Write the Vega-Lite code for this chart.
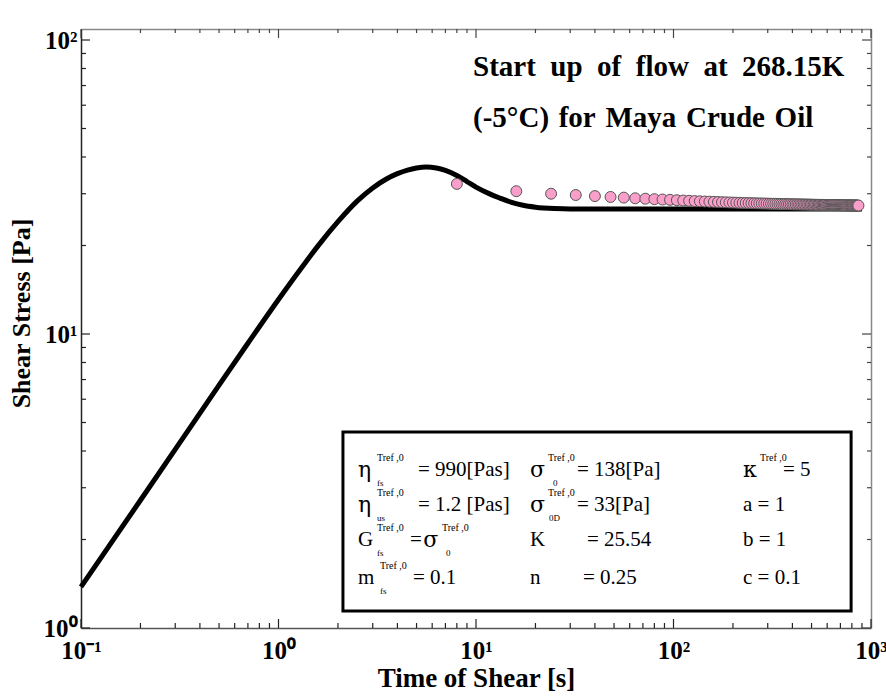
{
  "$schema": "https://vega.github.io/schema/vega-lite/v6.json",
  "width": 790,
  "height": 599,
  "autosize": {"type": "none"},
  "padding": {"left": 81, "top": 29, "right": 15, "bottom": 70},
  "background": "white",
  "config": {
    "view": {"stroke": null},
    "axis": {"grid": false, "labelFont": "Liberation Serif", "titleFont": "Liberation Serif", "labelColor": "black", "titleColor": "black"}
  },
  "datasets": {
    "model": [
      {"t": 0.1, "stress": 1.38}, {"t": 0.2, "stress": 2.72}, {"t": 0.3, "stress": 4.05}, {"t": 0.5, "stress": 6.7},
      {"t": 0.7, "stress": 9.3}, {"t": 1.0, "stress": 13.1}, {"t": 1.3, "stress": 16.7}, {"t": 1.6, "stress": 20.1},
      {"t": 2.0, "stress": 24.1}, {"t": 2.5, "stress": 28.3}, {"t": 3.0, "stress": 31.4}, {"t": 3.5, "stress": 33.6},
      {"t": 4.0, "stress": 35.1}, {"t": 4.5, "stress": 36.1}, {"t": 5.0, "stress": 36.7}, {"t": 5.6, "stress": 37.0},
      {"t": 6.3, "stress": 36.7}, {"t": 7.0, "stress": 36.0}, {"t": 8.0, "stress": 34.6}, {"t": 9.0, "stress": 33.0},
      {"t": 10, "stress": 31.6}, {"t": 11.8, "stress": 29.9}, {"t": 13.2, "stress": 29.0}, {"t": 15, "stress": 28.1},
      {"t": 17.3, "stress": 27.4}, {"t": 20, "stress": 27.0}, {"t": 25, "stress": 26.7}, {"t": 30, "stress": 26.6},
      {"t": 50, "stress": 26.6}, {"t": 100, "stress": 26.6}, {"t": 200, "stress": 26.6}, {"t": 400, "stress": 26.6},
      {"t": 600, "stress": 26.6}, {"t": 900, "stress": 26.6}
    ],
    "measured": [
      {"t": 8, "stress": 32.4}, {"t": 16, "stress": 30.6}, {"t": 24, "stress": 30.0}, {"t": 32, "stress": 29.7},
      {"t": 40, "stress": 29.45}, {"t": 48, "stress": 29.25}, {"t": 56, "stress": 29.1}, {"t": 64, "stress": 28.95},
      {"t": 72, "stress": 28.85}, {"t": 80, "stress": 28.75}, {"t": 88, "stress": 28.67}, {"t": 96, "stress": 28.6},
      {"t": 104, "stress": 28.52}, {"t": 112, "stress": 28.45}, {"t": 120, "stress": 28.39}, {"t": 128, "stress": 28.33},
      {"t": 136, "stress": 28.28}, {"t": 144, "stress": 28.23}, {"t": 152, "stress": 28.19}, {"t": 160, "stress": 28.15},
      {"t": 168, "stress": 28.11}, {"t": 176, "stress": 28.08}, {"t": 184, "stress": 28.05}, {"t": 192, "stress": 28.02},
      {"t": 200, "stress": 27.99}, {"t": 208, "stress": 27.97}, {"t": 216, "stress": 27.94}, {"t": 224, "stress": 27.92},
      {"t": 232, "stress": 27.9}, {"t": 240, "stress": 27.88}, {"t": 248, "stress": 27.86}, {"t": 256, "stress": 27.84},
      {"t": 264, "stress": 27.82}, {"t": 272, "stress": 27.81}, {"t": 280, "stress": 27.79}, {"t": 288, "stress": 27.78},
      {"t": 296, "stress": 27.77}, {"t": 304, "stress": 27.75}, {"t": 312, "stress": 27.74}, {"t": 320, "stress": 27.73},
      {"t": 328, "stress": 27.72}, {"t": 336, "stress": 27.71}, {"t": 344, "stress": 27.69}, {"t": 352, "stress": 27.68},
      {"t": 360, "stress": 27.67}, {"t": 368, "stress": 27.66}, {"t": 376, "stress": 27.65}, {"t": 384, "stress": 27.64},
      {"t": 392, "stress": 27.63}, {"t": 400, "stress": 27.62}, {"t": 408, "stress": 27.61}, {"t": 416, "stress": 27.61},
      {"t": 424, "stress": 27.6}, {"t": 432, "stress": 27.59}, {"t": 440, "stress": 27.58}, {"t": 448, "stress": 27.58},
      {"t": 456, "stress": 27.57}, {"t": 464, "stress": 27.56}, {"t": 472, "stress": 27.56}, {"t": 480, "stress": 27.55},
      {"t": 488, "stress": 27.54}, {"t": 496, "stress": 27.54}, {"t": 504, "stress": 27.53}, {"t": 512, "stress": 27.52},
      {"t": 520, "stress": 27.52}, {"t": 528, "stress": 27.51}, {"t": 536, "stress": 27.51}, {"t": 544, "stress": 27.5},
      {"t": 552, "stress": 27.5}, {"t": 560, "stress": 27.49}, {"t": 568, "stress": 27.49}, {"t": 576, "stress": 27.48},
      {"t": 584, "stress": 27.48}, {"t": 592, "stress": 27.47}, {"t": 600, "stress": 27.47}, {"t": 608, "stress": 27.46},
      {"t": 616, "stress": 27.46}, {"t": 624, "stress": 27.45}, {"t": 632, "stress": 27.45}, {"t": 640, "stress": 27.44},
      {"t": 648, "stress": 27.44}, {"t": 656, "stress": 27.44}, {"t": 664, "stress": 27.43}, {"t": 672, "stress": 27.43},
      {"t": 680, "stress": 27.42}, {"t": 688, "stress": 27.42}, {"t": 696, "stress": 27.42}, {"t": 704, "stress": 27.41},
      {"t": 712, "stress": 27.41}, {"t": 720, "stress": 27.41}, {"t": 728, "stress": 27.4}, {"t": 736, "stress": 27.4},
      {"t": 744, "stress": 27.4}, {"t": 752, "stress": 27.39}, {"t": 760, "stress": 27.39}, {"t": 768, "stress": 27.39},
      {"t": 776, "stress": 27.38}, {"t": 784, "stress": 27.38}, {"t": 792, "stress": 27.38}, {"t": 800, "stress": 27.38},
      {"t": 808, "stress": 27.37}, {"t": 816, "stress": 27.37}, {"t": 824, "stress": 27.37}, {"t": 832, "stress": 27.36},
      {"t": 840, "stress": 27.36}, {"t": 848, "stress": 27.36}, {"t": 856, "stress": 27.35}, {"t": 864, "stress": 27.35}
    ],
    "xmajor": [{"t": 0.1}, {"t": 1}, {"t": 10}, {"t": 100}, {"t": 1000}],
    "xminor": [{"t": 0.2}, {"t": 0.3}, {"t": 0.4}, {"t": 0.5}, {"t": 0.6}, {"t": 0.7}, {"t": 0.8}, {"t": 0.9},
               {"t": 2}, {"t": 3}, {"t": 4}, {"t": 5}, {"t": 6}, {"t": 7}, {"t": 8}, {"t": 9},
               {"t": 20}, {"t": 30}, {"t": 40}, {"t": 50}, {"t": 60}, {"t": 70}, {"t": 80}, {"t": 90},
               {"t": 200}, {"t": 300}, {"t": 400}, {"t": 500}, {"t": 600}, {"t": 700}, {"t": 800}, {"t": 900}],
    "ymajor": [{"v": 1}, {"v": 10}, {"v": 100}],
    "yminor": [{"v": 2}, {"v": 3}, {"v": 4}, {"v": 5}, {"v": 6}, {"v": 7}, {"v": 8}, {"v": 9},
               {"v": 20}, {"v": 30}, {"v": 40}, {"v": 50}, {"v": 60}, {"v": 70}, {"v": 80}, {"v": 90}],
    "box": [{"x1": 2.12, "x2": 793, "y1": 4.64, "y2": 1.142}],
    "heading": [
      {"t": 9.66, "v": 80.9, "s": "Start\u2002up\u2002of\u2002flow\u2002at\u2002268.15K"},
      {"t": 9.66, "v": 54.3, "s": "(-5°C)\u2004for\u2004Maya\u2004Crude\u2004Oil"}
    ],
    "boxmain": [
      {"t": 5.086, "v": 3.446, "s": "= 990[Pas]"},
      {"t": 32.46, "v": 3.446, "s": "= 138[Pa]"},
      {"t": 358.4, "v": 3.446, "s": "= 5"},
      {"t": 5.086, "v": 2.621, "s": "= 1.2 [Pas]"},
      {"t": 32.46, "v": 2.621, "s": "= 33[Pa]"},
      {"t": 224.8, "v": 2.621, "s": "a = 1"},
      {"t": 2.527, "v": 1.992, "s": "G"}, {"t": 4.632, "v": 1.992, "s": "="},
      {"t": 18.77, "v": 1.992, "s": "K"}, {"t": 36.48, "v": 1.992, "s": "= 25.54"},
      {"t": 224.8, "v": 1.992, "s": "b = 1"},
      {"t": 2.527, "v": 1.479, "s": "m"}, {"t": 4.797, "v": 1.479, "s": "= 0.1"},
      {"t": 18.77, "v": 1.479, "s": "n"}, {"t": 34.82, "v": 1.479, "s": "= 0.25"},
      {"t": 224.8, "v": 1.479, "s": "c = 0.1"}
    ],
    "boxgreek": [
      {"t": 2.527, "v": 3.446, "s": "η"}, {"t": 18.77, "v": 3.446, "s": "σ"}, {"t": 224.8, "v": 3.446, "s": "κ"},
      {"t": 2.527, "v": 2.621, "s": "η"}, {"t": 18.77, "v": 2.621, "s": "σ"},
      {"t": 5.4, "v": 1.992, "s": "σ"}
    ],
    "boxsup": [
      {"t": 3.153, "v": 3.787, "s": "Tref ,0"}, {"t": 23.15, "v": 3.787, "s": "Tref ,0"}, {"t": 274.2, "v": 3.787, "s": "Tref ,0"},
      {"t": 3.153, "v": 2.879, "s": "Tref ,0"}, {"t": 23.15, "v": 2.879, "s": "Tref ,0"},
      {"t": 3.153, "v": 2.188, "s": "Tref ,0"}, {"t": 6.726, "v": 2.188, "s": "Tref ,0"},
      {"t": 3.265, "v": 1.625, "s": "Tref ,0"}
    ],
    "boxsub": [
      {"t": 3.153, "v": 3.113, "s": "fs"}, {"t": 24.54, "v": 3.113, "s": "0"},
      {"t": 3.153, "v": 2.367, "s": "us"}, {"t": 23.42, "v": 2.367, "s": "0D"},
      {"t": 3.153, "v": 1.799, "s": "fs"}, {"t": 7.05, "v": 1.799, "s": "0"},
      {"t": 3.265, "v": 1.336, "s": "fs"}
    ]
  },
  "resolve": {"axis": {"x": "independent", "y": "independent"}},
  "layer": [
    {
      "data": {"name": "box"},
      "mark": {"type": "rect", "fill": "white", "stroke": "black", "strokeWidth": 3},
      "encoding": {
        "x": {"field": "x1", "type": "quantitative", "scale": {"type": "log", "domain": [0.1, 1000], "nice": false}, "axis": null},
        "x2": {"field": "x2"},
        "y": {"field": "y1", "type": "quantitative", "scale": {"type": "log", "domain": [1, 109], "nice": false}, "axis": null},
        "y2": {"field": "y2"}
      }
    },
    {
      "data": {"name": "xmajor"},
      "mark": {"type": "rule", "color": "#222", "strokeWidth": 1.2},
      "encoding": {
        "x": {"field": "t", "type": "quantitative", "axis": null},
        "y": {"datum": 1, "type": "quantitative", "axis": null},
        "y2": {"datum": 1.073}
      }
    },
    {
      "data": {"name": "xminor"},
      "mark": {"type": "rule", "color": "#222", "strokeWidth": 1.2},
      "encoding": {
        "x": {"field": "t", "type": "quantitative", "axis": null},
        "y": {"datum": 1, "type": "quantitative", "axis": null},
        "y2": {"datum": 1.04}
      }
    },
    {
      "data": {"name": "xmajor"},
      "mark": {"type": "rule", "color": "#444", "strokeWidth": 1.2},
      "encoding": {
        "x": {"field": "t", "type": "quantitative", "axis": null},
        "y": {"datum": 109, "type": "quantitative", "axis": null},
        "y2": {"datum": 101.6}
      }
    },
    {
      "data": {"name": "xminor"},
      "mark": {"type": "rule", "color": "#444", "strokeWidth": 1.2},
      "encoding": {
        "x": {"field": "t", "type": "quantitative", "axis": null},
        "y": {"datum": 109, "type": "quantitative", "axis": null},
        "y2": {"datum": 105.6}
      }
    },
    {
      "data": {"name": "ymajor"},
      "mark": {"type": "rule", "color": "#222", "strokeWidth": 1.2},
      "encoding": {
        "y": {"field": "v", "type": "quantitative", "axis": null},
        "x": {"datum": 0.1, "type": "quantitative", "axis": null},
        "x2": {"datum": 0.1111}
      }
    },
    {
      "data": {"name": "yminor"},
      "mark": {"type": "rule", "color": "#222", "strokeWidth": 1.2},
      "encoding": {
        "y": {"field": "v", "type": "quantitative", "axis": null},
        "x": {"datum": 0.1, "type": "quantitative", "axis": null},
        "x2": {"datum": 0.106}
      }
    },
    {
      "data": {"name": "ymajor"},
      "mark": {"type": "rule", "color": "#444", "strokeWidth": 1.2},
      "encoding": {
        "y": {"field": "v", "type": "quantitative", "axis": null},
        "x": {"datum": 1000, "type": "quantitative", "axis": null},
        "x2": {"datum": 900}
      }
    },
    {
      "data": {"name": "yminor"},
      "mark": {"type": "rule", "color": "#444", "strokeWidth": 1.2},
      "encoding": {
        "y": {"field": "v", "type": "quantitative", "axis": null},
        "x": {"datum": 1000, "type": "quantitative", "axis": null},
        "x2": {"datum": 954.5}
      }
    },
    {
      "data": {"name": "model"},
      "mark": {"type": "line", "color": "black", "strokeWidth": 5, "interpolate": "monotone"},
      "encoding": {
        "x": {"field": "t", "type": "quantitative", "scale": {"type": "log", "domain": [0.1, 1000], "nice": false},
              "axis": {"orient": "bottom", "values": [0.1, 1, 10, 100, 1000], "ticks": false, "domain": true, "domainColor": "#555", "domainWidth": 1.5,
                       "labelExpr": "datum.value < 0.5 ? '10⁻¹' : datum.value < 5 ? '10⁰' : datum.value < 50 ? '10¹' : datum.value < 500 ? '10²' : '10³'",
                       "labelFontSize": 25, "labelFontWeight": "bold", "labelPadding": 10, "labelFlush": false,
                       "title": "Time of Shear [s]", "titleFontSize": 27, "titleFontWeight": "bold", "titlePadding": 2}},
        "y": {"field": "stress", "type": "quantitative", "scale": {"type": "log", "domain": [1, 109], "nice": false},
              "axis": {"orient": "left", "values": [1, 10, 100], "ticks": false, "domain": true, "domainColor": "#222", "domainWidth": 1.5,
                       "labelExpr": "datum.value < 5 ? '10⁰' : datum.value < 50 ? '10¹' : '10²'",
                       "labelFontSize": 25, "labelFontWeight": "bold", "labelPadding": 4, "labelFlush": false,
                       "title": "Shear Stress [Pa]", "titleFontSize": 26, "titleFontWeight": "bold", "titleX": -60, "titleY": 284, "titleAlign": "center", "titleBaseline": "middle"}}
      }
    },
    {
      "data": {"name": "measured"},
      "mark": {"type": "point", "shape": "circle", "filled": true, "fill": "#f99fca", "stroke": "#555", "strokeWidth": 1, "size": 120, "opacity": 1},
      "encoding": {
        "x": {"field": "t", "type": "quantitative", "axis": null},
        "y": {"field": "stress", "type": "quantitative", "axis": null}
      }
    },
    {
      "data": {"name": "heading"},
      "mark": {"type": "text", "font": "Liberation Serif", "fontWeight": "bold", "fontSize": 29, "align": "left", "baseline": "middle", "color": "black"},
      "encoding": {
        "x": {"field": "t", "type": "quantitative",
              "axis": {"orient": "top", "values": [0.1, 1000], "ticks": false, "labels": false, "domain": true, "domainColor": "#888", "domainWidth": 1.5, "title": null}},
        "y": {"field": "v", "type": "quantitative",
              "axis": {"orient": "right", "values": [1], "ticks": false, "labels": false, "domain": true, "domainColor": "#888", "domainWidth": 1.5, "title": null}},
        "text": {"field": "s"}
      }
    },
    {
      "data": {"name": "boxmain"},
      "mark": {"type": "text", "font": "Liberation Serif", "fontSize": 21, "align": "left", "baseline": "middle", "color": "black"},
      "encoding": {
        "x": {"field": "t", "type": "quantitative", "axis": null},
        "y": {"field": "v", "type": "quantitative", "axis": null},
        "text": {"field": "s"}
      }
    },
    {
      "data": {"name": "boxgreek"},
      "mark": {"type": "text", "font": "DejaVu Serif", "fontSize": 22, "align": "left", "baseline": "middle", "color": "black"},
      "encoding": {
        "x": {"field": "t", "type": "quantitative", "axis": null},
        "y": {"field": "v", "type": "quantitative", "axis": null},
        "text": {"field": "s"}
      }
    },
    {
      "data": {"name": "boxsup"},
      "mark": {"type": "text", "font": "Liberation Serif", "fontSize": 10, "align": "left", "baseline": "middle", "color": "black"},
      "encoding": {
        "x": {"field": "t", "type": "quantitative", "axis": null},
        "y": {"field": "v", "type": "quantitative", "axis": null},
        "text": {"field": "s"}
      }
    },
    {
      "data": {"name": "boxsub"},
      "mark": {"type": "text", "font": "Liberation Serif", "fontSize": 9, "align": "left", "baseline": "middle", "color": "black"},
      "encoding": {
        "x": {"field": "t", "type": "quantitative", "axis": null},
        "y": {"field": "v", "type": "quantitative", "axis": null},
        "text": {"field": "s"}
      }
    }
  ]
}
